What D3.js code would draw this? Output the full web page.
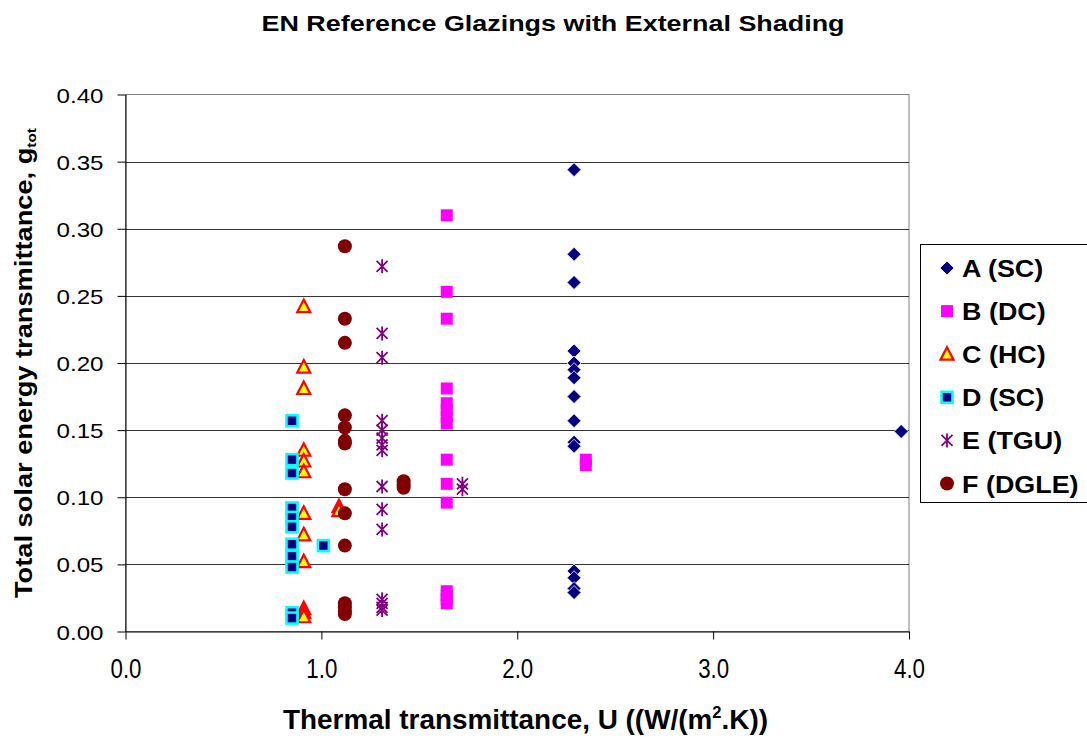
<!DOCTYPE html>
<html>
<head>
<meta charset="utf-8">
<script src="https://cdn.jsdelivr.net/npm/d3@7"></script>
<style>
  body { margin: 0; background: #fff; }
  text { font-family: Arial, "Liberation Sans", sans-serif; fill: #000; }
</style>
</head>
<body>
<div id="chart"></div>
<script>
// ---- data ----
var seriesNames = ["A (SC)", "B (DC)", "C (HC)", "D (SC)", "E (TGU)", "F (DGLE)"];

var aU = [2.29, 2.29, 2.29, 2.29, 2.29, 2.29, 2.29, 2.29, 2.29, 2.29, 2.29, 2.29, 2.29, 2.29, 2.29, 3.96];
var aG = [0.344, 0.281, 0.260, 0.209, 0.200, 0.195, 0.189, 0.175, 0.157, 0.141, 0.138, 0.045, 0.040, 0.032, 0.029, 0.149];

var bU = [1.64, 1.64, 1.64, 1.64, 1.64, 1.64, 1.64, 1.64, 1.64, 1.64, 1.64, 1.64, 1.64, 1.64, 1.64, 2.35, 2.35];
var bG = [0.310, 0.253, 0.233, 0.181, 0.170, 0.165, 0.160, 0.155, 0.128, 0.110, 0.096, 0.030, 0.027, 0.024, 0.021, 0.128, 0.124];

var cU = [0.91, 0.91, 0.91, 0.91, 0.91, 0.91, 0.91, 0.91, 0.91, 0.91, 0.91, 0.91, 1.09, 1.09];
var cG = [0.242, 0.197, 0.181, 0.135, 0.127, 0.119, 0.088, 0.072, 0.052, 0.017, 0.014, 0.011, 0.093, 0.090];

var dU = [0.85, 0.85, 0.85, 0.85, 0.85, 0.85, 0.85, 0.85, 0.85, 0.85, 0.85, 1.01];
var dG = [0.157, 0.128, 0.118, 0.092, 0.085, 0.078, 0.065, 0.056, 0.048, 0.014, 0.010, 0.064];

var eU = [1.31, 1.31, 1.31, 1.31, 1.31, 1.31, 1.31, 1.31, 1.31, 1.31, 1.31, 1.31, 1.31, 1.31, 1.31, 1.72, 1.72];
var eG = [0.272, 0.222, 0.204, 0.157, 0.150, 0.144, 0.139, 0.135, 0.108, 0.091, 0.076, 0.024, 0.021, 0.018, 0.016, 0.110, 0.106];

var fU = [1.12, 1.12, 1.12, 1.12, 1.12, 1.12, 1.12, 1.12, 1.12, 1.12, 1.12, 1.12, 1.12, 1.12, 1.42, 1.42, 1.42];
var fG = [0.287, 0.233, 0.215, 0.161, 0.152, 0.142, 0.140, 0.106, 0.088, 0.064, 0.021, 0.018, 0.015, 0.013, 0.112, 0.109, 0.107];

var xTicks = [0, 1, 2, 3, 4];
var yTicks = [0, 0.05, 0.10, 0.15, 0.20, 0.25, 0.30, 0.35, 0.40];

// ---- layout ----
var W = 1087, H = 740;
var plotLeft = 125.5, plotRight = 909, plotTop = 94.5, plotBottom = 631.5;

var xScale = d3.scaleLinear().domain([0, 4]).range([plotLeft, plotRight]);
var yScale = d3.scaleLinear().domain([0, 0.4]).range([plotBottom, plotTop]);

var svg = d3.select("#chart").append("svg")
    .attr("width", W)
    .attr("height", H);

// plot area frame + grid
svg.append("rect")
    .attr("x", plotLeft).attr("y", plotTop)
    .attr("width", plotRight - plotLeft).attr("height", plotBottom - plotTop)
    .attr("fill", "#fff")
    .attr("stroke", "#808080")
    .attr("stroke-width", 1);

svg.append("g")
  .selectAll("line")
  .data(yTicks.slice(1, -1))
  .enter().append("line")
    .attr("x1", plotLeft).attr("x2", plotRight)
    .attr("y1", function(d) { return Math.round(yScale(d)) + 0.5; })
    .attr("y2", function(d) { return Math.round(yScale(d)) + 0.5; })
    .attr("stroke", "#333")
    .attr("stroke-width", 1);

// axes
var yAxis = d3.axisLeft(yScale).tickValues(yTicks).tickSize(8).tickSizeOuter(0)
    .tickPadding(14).tickFormat(d3.format(".2f"));
var xAxis = d3.axisBottom(xScale).tickValues(xTicks).tickSize(8).tickSizeOuter(0)
    .tickFormat(d3.format(".1f"));

var gy = svg.append("g")
    .attr("transform", "translate(" + plotLeft + ",0)")
    .call(yAxis);
gy.selectAll("text")
    .style("font-size", "21px")
    .style("font-family", "Arial, 'Liberation Sans', sans-serif")
    .attr("dy", "0.36em")
    .attr("textLength", 47)
    .attr("lengthAdjust", "spacingAndGlyphs");

var gx = svg.append("g")
    .attr("transform", "translate(0," + plotBottom + ")")
    .call(xAxis);
gx.selectAll("text")
    .style("font-size", "27px")
    .style("font-family", "Arial, 'Liberation Sans', sans-serif")
    .attr("y", 46).attr("dy", 0)
    .attr("textLength", 31)
    .attr("lengthAdjust", "spacingAndGlyphs");

svg.selectAll(".domain, .tick line").attr("stroke", "#000");

// titles
svg.append("text")
    .attr("x", 553).attr("y", 31)
    .attr("text-anchor", "middle")
    .style("font-size", "21.5px").style("font-weight", "bold")
    .attr("textLength", 583).attr("lengthAdjust", "spacingAndGlyphs")
    .text("EN Reference Glazings with External Shading");

var xt = svg.append("text")
    .attr("x", 283).attr("y", 729)
    .style("font-size", "27px").style("font-weight", "bold")
    .attr("textLength", 485).attr("lengthAdjust", "spacingAndGlyphs");
xt.append("tspan").text("Thermal transmittance, U ((W/(m");
xt.append("tspan").attr("dy", -11).style("font-size", "16px").text("2");
xt.append("tspan").attr("dy", 11).text(".K))");

var yt = svg.append("text")
    .attr("transform", "translate(32,598) rotate(-90)")
    .attr("x", 0).attr("y", 0)
    .style("font-size", "23px").style("font-weight", "bold")
    .attr("textLength", 470).attr("lengthAdjust", "spacingAndGlyphs");
yt.append("tspan").text("Total solar energy transmittance, g");
yt.append("tspan").attr("dy", 4).style("font-size", "13px").text("tot");

// ---- markers ----
function diamond(g) {
  g.append("path").attr("d", "M0,-7L7,0L0,7L-7,0Z")
    .attr("fill", "#000080").attr("stroke", "#fff").attr("stroke-width", 0.8);
}
function squareB(g) {
  g.append("rect").attr("x", -6).attr("y", -6).attr("width", 12).attr("height", 12)
    .attr("fill", "#ff00ff");
}
function triangle(g) {
  g.append("path").attr("d", "M0,-7L6.5,5.5L-6.5,5.5Z")
    .attr("fill", "#ffff00").attr("stroke", "#ff0000").attr("stroke-width", 2.2)
    .attr("stroke-linejoin", "miter");
}
function squareD(g) {
  g.append("rect").attr("x", -5.5).attr("y", -5.5).attr("width", 11).attr("height", 11)
    .attr("fill", "#000080").attr("stroke", "#00ffff").attr("stroke-width", 2.6);
}
function star(g) {
  g.append("path").attr("d", "M-5.5,-5.5L5.5,5.5M-5.5,5.5L5.5,-5.5M0,-7L0,7")
    .attr("fill", "none").attr("stroke", "#800080").attr("stroke-width", 1.8);
}
function circle(g) {
  g.append("circle").attr("r", 7).attr("fill", "#800000");
}

var series = [
  {name: seriesNames[0], u: aU, g: aG, mark: diamond},
  {name: seriesNames[1], u: bU, g: bG, mark: squareB},
  {name: seriesNames[2], u: cU, g: cG, mark: triangle},
  {name: seriesNames[3], u: dU, g: dG, mark: squareD},
  {name: seriesNames[4], u: eU, g: eG, mark: star},
  {name: seriesNames[5], u: fU, g: fG, mark: circle}
];

series.forEach(function(s) {
  var pts = s.u.map(function(u, i) { return {u: u, g: s.g[i]}; });
  svg.append("g").selectAll("g")
    .data(pts)
    .enter().append("g")
      .attr("transform", function(d) {
        return "translate(" + xScale(d.u) + "," + yScale(d.g) + ")";
      })
      .each(function() { s.mark(d3.select(this)); });
});

// ---- legend ----
var legend = svg.append("g");
legend.append("rect")
    .attr("x", 920.5).attr("y", 244.5)
    .attr("width", 175).attr("height", 258)
    .attr("fill", "#fff").attr("stroke", "#000").attr("stroke-width", 1);

var rows = legend.selectAll("g.row")
    .data(series)
    .enter().append("g")
    .attr("class", "row")
    .attr("transform", function(d, i) { return "translate(947," + (268 + i * 43.1) + ")"; });
rows.each(function(d) { d.mark(d3.select(this)); });
rows.append("text")
    .attr("x", 13.5).attr("y", 9)
    .style("font-size", "24px").style("font-weight", "bold")
    .attr("transform", "scale(1.12,1)")
    .text(function(d) { return d.name; });
</script>
</body>
</html>
